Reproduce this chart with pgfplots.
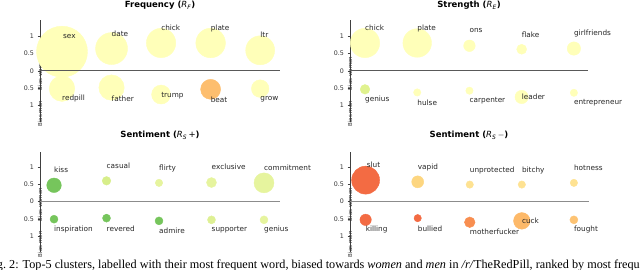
\documentclass[border=0pt]{standalone}
\usepackage{fontspec}
\setmainfont{DejaVu Sans}
\newfontfamily\capfont{Liberation Serif}
\usepackage{pgfplots}
\usepackage{pgfplotstable}
\pgfplotsset{compat=1.18}

\definecolor{cpa}{RGB}{255,255,185}
\definecolor{cor}{RGB}{253,190,110}
\definecolor{cgy}{RGB}{224,242,143}
\definecolor{cgr}{RGB}{118,197,92}
\definecolor{cyg}{RGB}{215,238,138}
\definecolor{clg}{RGB}{230,244,158}
\definecolor{csg}{RGB}{222,240,148}
\definecolor{crd}{RGB}{243,107,67}
\definecolor{cvo}{RGB}{253,214,128}
\definecolor{cly}{RGB}{254,226,146}
\definecolor{cmo}{RGB}{248,142,80}
\definecolor{cck}{RGB}{253,185,105}
\definecolor{cfo}{RGB}{253,195,115}

\newcommand\tickfont{\fontsize{6.3}{7}\selectfont}
\newcommand\lblfont{\fontsize{7.3}{8}\selectfont}
\newcommand\ylfont{\fontsize{5.5}{6}\selectfont}
\newcommand\ttlfont{\fontsize{8.5}{10}\selectfont\bfseries}

\pgfplotsset{
  bubax/.style={
    scale only axis, anchor=south west,
    axis y line*=left, axis x line=none,
    ymin=-1.46, ymax=1.46,
    ytick={-1,-0.5,0,0.5,1}, yticklabels={{1},{0.5},{0},{0.5},{1}},
    tick align=outside, major tick length=2.5pt,
    y axis line style={black!75, line width=0.8pt},
    ytick style={black!75, line width=0.6pt},
    yticklabel style={font=\tickfont, text=black!80},
    clip=false,
  },
  bubbles/.style={
    scatter, only marks, mark=*,
    point meta=explicit symbolic,
    scatter/classes={
      pa={fill=cpa,draw=cpa}, or={fill=cor,draw=cor}, gy={fill=cgy,draw=cgy},
      gr={fill=cgr,draw=cgr}, yg={fill=cyg,draw=cyg}, lg={fill=clg,draw=clg},
      sg={fill=csg,draw=csg}, rd={fill=crd,draw=crd}, vo={fill=cvo,draw=cvo},
      ly={fill=cly,draw=cly}, mo={fill=cmo,draw=cmo}, ck={fill=cck,draw=cck},
      fo={fill=cfo,draw=cfo}},
    visualization depends on={\thisrow{r} \as \rad},
    scatter/@pre marker code/.append style={/tikz/mark size=\rad},
  },
  labels/.style={
    only marks, mark=none,
    point meta=explicit symbolic,
    nodes near coords,
    nodes near coords align={anchor=west},
    every node near coord/.append style={anchor=west, inner sep=0pt,
      font=\lblfont, text=black!85},
  },
}

% Frequency: bubbles (x, bias y, radius, colour class) and labels (x, y, text)
\pgfplotstableread{
x y r c
0 0.55 25.5 pa
1 0.64 16.0 pa
2 0.80 14.7 pa
3 0.80 14.8 pa
4 0.59 14.5 pa
0 -0.51 12.8 pa
1 -0.48 12.7 pa
2 -0.68 9.5 pa
3 -0.53 10.0 or
4 -0.51 8.8 pa
}\freqdata
\pgfplotstableread{
x y t
0.02 1.00 sex
1 1.07 date
2 1.25 chick
3 1.22 plate
4 1.05 ltr
0 -0.79 redpill
1 -0.79 father
2 -0.70 trump
3 -0.82 beat
4 -0.81 grow
}\freqlbl
% Strength
\pgfplotstableread{
x y r c
0 0.80 14.7 pa
1 0.80 14.3 pa
2 0.72 5.8 pa
3 0.62 5.0 pa
4 0.64 6.7 pa
0 -0.53 4.8 gy
1 -0.62 3.7 pa
2 -0.57 3.7 pa
3 -0.75 6.7 pa
4 -0.63 3.7 pa
}\strdata
\pgfplotstableread{
x y t
0 1.25 chick
1 1.22 plate
2 1.17 ons
3 1.05 flake
4 1.07 girlfriends
0 -0.82 genius
1 -0.91 hulse
2 -0.86 carpenter
3 -0.75 leader
4 -0.92 entrepreneur
}\strlbl
% Sentiment +
\pgfplotstableread{
x y r c
0 0.48 7.3 gr
1 0.61 4.3 yg
2 0.55 3.7 lg
3 0.56 5.0 lg
4 0.55 10.0 lg
0 -0.51 4.0 gr
1 -0.48 4.0 gr
2 -0.56 4.0 gr
3 -0.53 4.0 sg
4 -0.53 4.0 lg
}\posdata
\pgfplotstableread{
x y t
0 0.93 kiss
1 1.06 casual
2 0.98 flirty
3 1.01 exclusive
4 0.99 commitment
0 -0.80 inspiration
1 -0.78 revered
2 -0.85 admire
3 -0.82 supporter
4 -0.82 genius
}\poslbl
% Sentiment -
\pgfplotstableread{
x y r c
0 0.63 14.0 rd
1 0.58 6.0 vo
2 0.50 3.7 ly
3 0.50 3.7 ly
4 0.55 3.7 ly
0 -0.53 5.7 rd
1 -0.48 3.7 rd
2 -0.60 5.3 mo
3 -0.56 8.3 ck
4 -0.53 4.0 fo
}\negdata
\pgfplotstableread{
x y t
0.02 1.09 slut
1 1.01 vapid
2 0.91 unprotected
3 0.91 bitchy
4 0.99 hotness
0 -0.82 killing
1 -0.78 bullied
2 -0.88 motherfucker
3 -0.55 cuck
4 -0.82 fought
}\neglbl

\begin{document}
\begin{tikzpicture}
\useasboundingbox (0,0) rectangle (640pt,269pt);

% Panel 1: Frequency
\begin{axis}[bubax, at={(40pt,147.3pt)}, width=240pt, height=101.7pt,
  xmin=-0.444, xmax=4.40]
\addplot[bubbles] table[x=x,y=y,meta=c]{\freqdata};
\addplot[labels] table[x=x,y=y,meta=t]{\freqlbl};
\coordinate (z1a) at (axis cs:-0.444,0);
\coordinate (z1b) at (axis cs:4.40,0);
\node[rotate=90, font=\ylfont, text=black!80] at (axis cs:-0.444,0.56) [xshift=-22pt] {Bias women};
\node[rotate=90, font=\ylfont, text=black!80] at (axis cs:-0.444,-0.60) [xshift=-22pt] {Bias men};
\end{axis}
\draw[black!65, line width=0.9pt] (z1a) -- (z1b);

% Panel 2: Strength
\begin{axis}[bubax, at={(350pt,147.3pt)}, width=238pt, height=101.7pt,
  xmin=-0.287, xmax=4.27]
\addplot[bubbles] table[x=x,y=y,meta=c]{\strdata};
\addplot[labels] table[x=x,y=y,meta=t]{\strlbl};
\coordinate (z2a) at (axis cs:-0.287,0);
\coordinate (z2b) at (axis cs:4.27,0);
\node[rotate=90, font=\ylfont, text=black!80] at (axis cs:-0.287,0.56) [xshift=-22pt] {Bias women};
\node[rotate=90, font=\ylfont, text=black!80] at (axis cs:-0.287,-0.60) [xshift=-22pt] {Bias men};
\end{axis}
\draw[black!65, line width=0.9pt] (z2a) -- (z2b);

% Panel 3: Sentiment +
\begin{axis}[bubax, at={(40pt,17.3pt)}, width=240pt, height=100pt,
  xmin=-0.267, xmax=4.305]
\addplot[bubbles] table[x=x,y=y,meta=c]{\posdata};
\addplot[labels] table[x=x,y=y,meta=t]{\poslbl};
\coordinate (z3a) at (axis cs:-0.267,0);
\coordinate (z3b) at (axis cs:4.305,0);
\node[rotate=90, font=\ylfont, text=black!80] at (axis cs:-0.267,0.56) [xshift=-22pt] {Bias women};
\node[rotate=90, font=\ylfont, text=black!80] at (axis cs:-0.267,-0.60) [xshift=-22pt] {Bias men};
\end{axis}
\draw[black!45, line width=0.9pt] (z3a) -- (z3b);

% Panel 4: Sentiment -
\begin{axis}[bubax, at={(350pt,17.3pt)}, width=239pt, height=100pt,
  xmin=-0.30, xmax=4.29]
\addplot[bubbles] table[x=x,y=y,meta=c]{\negdata};
\addplot[labels] table[x=x,y=y,meta=t]{\neglbl};
\coordinate (z4a) at (axis cs:-0.30,0);
\coordinate (z4b) at (axis cs:4.29,0);
\node[rotate=90, font=\ylfont, text=black!80] at (axis cs:-0.30,0.56) [xshift=-22pt] {Bias women};
\node[rotate=90, font=\ylfont, text=black!80] at (axis cs:-0.30,-0.60) [xshift=-22pt] {Bias men};
\end{axis}
\draw[black!45, line width=0.9pt] (z4a) -- (z4b);

% Titles
\node[font=\ttlfont] at (160pt,263.5pt) {Frequency (\textmd{\textit{R}\textsubscript{\textit{F}}})};
\node[font=\ttlfont] at (469pt,263.5pt) {Strength (\textmd{\textit{R}\textsubscript{\textit{E}}})};
\node[font=\ttlfont] at (160pt,134pt) {Sentiment (\textmd{\textit{R}\textsubscript{\textit{S}}\,+})};
\node[font=\ttlfont] at (469pt,134pt) {Sentiment (\textmd{\textit{R}\textsubscript{\textit{S}}\,$-$})};

% Caption (cut by the picture's edges, as in the reference)
\node[anchor=base east, inner sep=0pt, font=\capfont\fontsize{12.2}{14}\selectfont]
  at (640pt,0.6pt) {\llap{Fi}g.~2: Top-5 clusters, labelled with their most frequent word, biased towards \textit{women} and \textit{men} in \textit{/r/}TheRedPill, ranked by most frequ\rlap{ent word.}};
\end{tikzpicture}
\end{document}
